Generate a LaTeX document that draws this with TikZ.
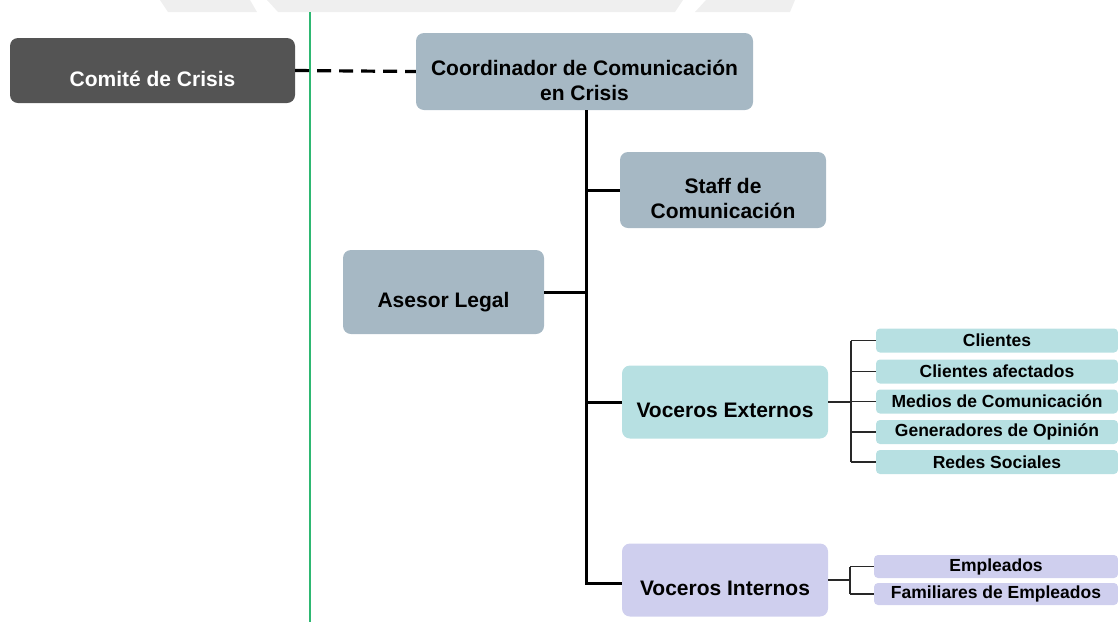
\documentclass[tikz,border=0pt]{standalone}
\usepackage{fontspec}
\setmainfont{Liberation Sans}
\definecolor{crisisdark}{HTML}{545454}
\definecolor{steelbox}{HTML}{A6B8C4}
\definecolor{tealbox}{HTML}{B7E0E2}
\definecolor{lavbox}{HTML}{CFCFEE}
\definecolor{bandgray}{HTML}{EFEFEF}
\definecolor{guidegreen}{RGB}{46,184,114}
\tikzset{
  mainbox/.style={rectangle, rounded corners=8pt, inner sep=0pt, align=center,
    font=\bfseries\fontsize{21}{25}\selectfont},
  oneline/.style={mainbox, text height=31pt, text depth=0pt},
  twoline/.style={mainbox, text height=57pt, text depth=0pt},
  itembox/.style={rectangle, rounded corners=4pt, inner sep=0pt, align=center,
    minimum width=242pt, minimum height=24pt,
    font=\bfseries\fontsize{17.5}{20}\selectfont},
  trunk/.style={line width=3pt},
  twig/.style={line width=1.4pt, draw={rgb,255:red,40;green,40;blue,40}},
}
\begin{document}
\begin{tikzpicture}[x=1pt, y=-1pt]
  \useasboundingbox (0,0) rectangle (1118,622);

  % light banner shapes along the top edge
  \fill[bandgray] (160,0) -- (250,0) -- (257,12) -- (168,12) -- cycle;
  \fill[bandgray] (267,0) -- (683,0) -- (675,12) -- (278,12) -- cycle;
  \fill[bandgray] (706,0) -- (795,0) -- (790,12) -- (695,12) -- cycle;

  % green guide line
  \draw[guidegreen, line width=1.2pt] (310,12) -- (310,622);

  % main boxes
  \node[oneline, fill=crisisdark, text=white, minimum width=285pt, minimum height=65pt]
    (comite) at (152.5,70.5) {Comité de Crisis};
  \node[twoline, fill=steelbox, minimum width=337pt, minimum height=77pt]
    (coord) at (584.5,71.5) {Coordinador de Comunicación\\en Crisis};
  \node[twoline, fill=steelbox, minimum width=206pt, minimum height=76pt]
    (staff) at (723,190) {Staff de\\Comunicación};
  \node[oneline, fill=steelbox, minimum width=201pt, minimum height=84pt]
    (asesor) at (443.5,292) {Asesor Legal};
  \node[oneline, fill=tealbox, minimum width=206pt, minimum height=73pt]
    (vext) at (725,402) {Voceros Externos};
  \node[oneline, fill=lavbox, minimum width=206pt, minimum height=73pt]
    (vint) at (725,580) {Voceros Internos};

  % audiences of the external spokespeople
  \node[itembox, fill=tealbox] (e1) at (997,340.5) {Clientes};
  \node[itembox, fill=tealbox] (e2) at (997,371.5) {Clientes afectados};
  \node[itembox, fill=tealbox] (e3) at (997,401.5) {Medios de Comunicación};
  \node[itembox, fill=tealbox] (e4) at (997,432) {Generadores de Opinión};
  \node[itembox, fill=tealbox] (e5) at (997,462) {Redes Sociales};

  % audiences of the internal spokespeople
  \node[itembox, fill=lavbox, minimum width=244pt, minimum height=23pt]
    (i1) at (996,566.5) {Empleados};
  \node[itembox, fill=lavbox, minimum width=244pt, minimum height=22pt]
    (i2) at (996,594) {Familiares de Empleados};

  % connectors
  \draw[line width=3.2pt, dash pattern=on 14pt off 8pt] (comite.east) -- (coord.west);

  \coordinate (tb) at (586,583);
  \draw[trunk] (coord.south -| tb) -- (tb) -- (tb -| vint.west);
  \draw[trunk] (staff.west -| tb) -- (staff.west);
  \draw[trunk] (asesor.east) -- (asesor.east -| tb);
  \draw[trunk] (vext.west -| tb) -- (vext.west);

  \coordinate (bx) at (851,0);
  \draw[twig] (vext.east) -- (vext.east -| bx);
  \draw[twig] (e1.west -| bx) -- (e5.west -| bx);
  \foreach \n in {e1,e2,e3,e4,e5}
    \draw[twig] (\n.west -| bx) -- (\n.west);

  \coordinate (by) at (850,0);
  \draw[twig] (vint.east) -- (vint.east -| by);
  \draw[twig] (i1.west -| by) -- (i2.west -| by);
  \draw[twig] (i1.west -| by) -- (i1.west);
  \draw[twig] (i2.west -| by) -- (i2.west);
\end{tikzpicture}
\end{document}
